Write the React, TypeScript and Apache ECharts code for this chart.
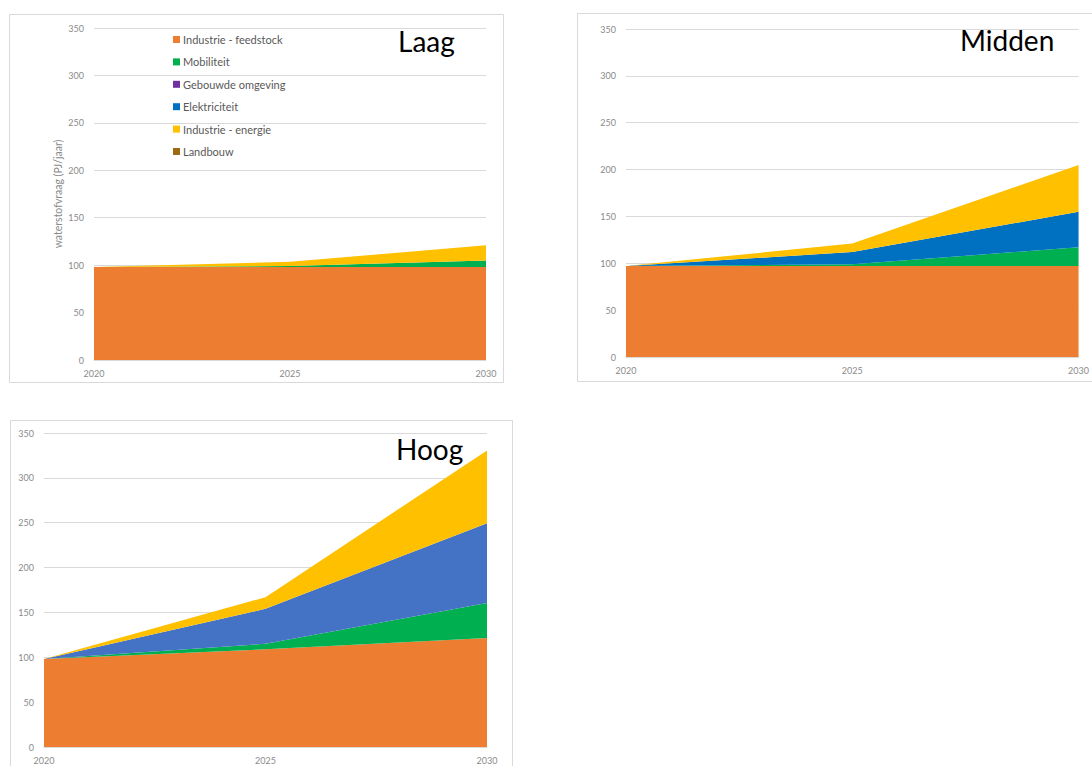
import React, { useEffect, useRef } from "react";
import * as echarts from "echarts";

const years = ["2020", "2025", "2030"];
const seriesNames = [
  "Industrie - feedstock",
  "Mobiliteit",
  "Gebouwde omgeving",
  "Elektriciteit",
  "Industrie - energie",
  "Landbouw",
];
const panelTitles = ["Laag", "Midden", "Hoog"];
const yTicks = [0, 350, 50]; // min, max, interval

// Laag
const laagFeedstock = [98, 98, 98];
const laagMobiliteit = [0, 1, 7];
const laagGebouwd = [0, 0, 0];
const laagElektriciteit = [0, 0, 0];
const laagEnergie = [0, 4.5, 16];
const laagLandbouw = [0, 0, 0];

// Midden
const middenFeedstock = [97, 97, 97];
const middenMobiliteit = [0, 2, 20];
const middenGebouwd = [0, 0, 0];
const middenElektriciteit = [0, 13, 38];
const middenEnergie = [0, 9, 50];
const middenLandbouw = [0, 0, 0];

// Hoog
const hoogFeedstock = [98, 109, 121.5];
const hoogMobiliteit = [0, 6, 39];
const hoogGebouwd = [0, 0, 0];
const hoogElektriciteit = [0, 39, 89];
const hoogEnergie = [0, 13, 81];
const hoogLandbouw = [0, 0, 0];

const panels = [
  [laagFeedstock, laagMobiliteit, laagGebouwd, laagElektriciteit, laagEnergie, laagLandbouw],
  [middenFeedstock, middenMobiliteit, middenGebouwd, middenElektriciteit, middenEnergie, middenLandbouw],
  [hoogFeedstock, hoogMobiliteit, hoogGebouwd, hoogElektriciteit, hoogEnergie, hoogLandbouw],
];

const baseColors = ["#ED7D31", "#00B050", "#7030A0", "#0070C0", "#FFC000", "#9C6A14"];
const panelColors = [
  baseColors,
  baseColors,
  ["#ED7D31", "#00B050", "#7030A0", "#4472C4", "#FFC000", "#9C6A14"],
];

const grids = [
  { left: 94, top: 28, width: 392, height: 332 },
  { left: 626, top: 29, width: 457, height: 328 },
  { left: 44, top: 433, width: 443, height: 314 },
];
const borders = [
  { x: 9.5, y: 14.5, width: 494, height: 368 },
  { x: 577.5, y: 13.5, width: 540, height: 368 },
  { x: 10.5, y: 420.5, width: 502, height: 380 },
];
const titlePos = [
  { x: 398, y: 41 },
  { x: 960, y: 40 },
  { x: 396, y: 449 },
];

const FONT = "Lato";

export default function App() {
  const ref = useRef<HTMLDivElement>(null);
  useEffect(() => {
    if (!ref.current) return;
    const chart = echarts.init(ref.current, undefined, { renderer: "svg" });

    const series: any[] = [];
    panels.forEach((panel, p) => {
      panel.forEach((vals, i) => {
        series.push({
          name: seriesNames[i],
          type: "line",
          stack: "s" + p,
          xAxisIndex: p,
          yAxisIndex: p,
          data: vals,
          showSymbol: false,
          symbol: "none",
          lineStyle: { width: 0 },
          itemStyle: { color: panelColors[p][i] },
          areaStyle: { color: panelColors[p][i], opacity: 1 },
          z: 2,
        });
      });
    });

    const option: any = {
      animation: false,
      backgroundColor: "#ffffff",
      textStyle: { fontFamily: FONT },
      grid: grids.map((g) => ({ ...g, containLabel: false })),
      xAxis: grids.map((_, p) => ({
        type: "category",
        gridIndex: p,
        data: years,
        boundaryGap: false,
        axisTick: { show: false },
        axisLine: { show: true, lineStyle: { color: "#d9d9d9" } },
        axisLabel: { color: "#8a8a8a", fontSize: 9, margin: 9, fontFamily: FONT },
        splitLine: { show: false },
      })),
      yAxis: grids.map((_, p) => ({
        type: "value",
        gridIndex: p,
        min: yTicks[0],
        max: yTicks[1],
        interval: yTicks[2],
        axisLine: { show: false },
        axisTick: { show: false },
        axisLabel: { color: "#8a8a8a", fontSize: 9, margin: 10, fontFamily: FONT },
        splitLine: { show: true, lineStyle: { color: "#d9d9d9", width: 1 } },
        ...(p === 0
          ? {
              name: "waterstofvraag (PJ/jaar)",
              nameLocation: "middle",
              nameGap: 31,
              nameTextStyle: { color: "#8a8a8a", fontSize: 10.5, fontFamily: FONT },
            }
          : {}),
      })),
      legend: {
        data: seriesNames,
        orient: "vertical",
        left: 173,
        top: 33,
        padding: 0,
        itemWidth: 7,
        itemHeight: 7,
        itemGap: 9.4,
        icon: "rect",
        selectedMode: false,
        textStyle: { color: "#595959", fontSize: 11, lineHeight: 13, fontFamily: FONT, padding: [0, 0, 0, -2] },
      },
      graphic: [
        ...borders.map((b) => ({
          type: "rect",
          shape: b,
          style: { fill: "none", stroke: "#d9d9d9", lineWidth: 1 },
          silent: true,
          z: 0,
        })),
        ...titlePos.map((t, i) => ({
          type: "text",
          x: t.x,
          y: t.y,
          style: {
            text: panelTitles[i],
            fontSize: 28,
            fontFamily: FONT,
            fill: "#000000",
            textVerticalAlign: "middle",
            verticalAlign: "middle",
          },
          z: 10,
        })),
      ],
      series,
    };
    chart.setOption(option);
    return () => chart.dispose();
  }, []);

  return (
    <div
      ref={ref}
      style={{ position: "fixed", left: 0, top: 0, width: 1092, height: 766, background: "#fff" }}
    />
  );
}
